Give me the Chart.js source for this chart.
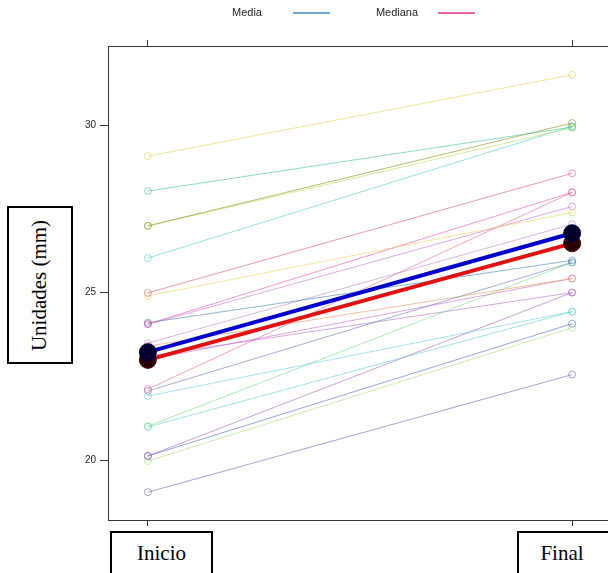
<!DOCTYPE html>
<html>
<head>
<meta charset="utf-8">
<script src="https://cdn.jsdelivr.net/npm/chart.js@4.4.1/dist/chart.umd.min.js"></script>
<style>
  html, body { margin: 0; padding: 0; background: #fff; overflow: hidden; width: 608px; height: 573px; }
  #wrap { position: absolute; left: 0; top: 0; width: 640px; height: 573px; }
  .box { position: absolute; border: 2px solid #000; box-sizing: border-box; background: #fff;
         font-family: "Liberation Serif", "Times New Roman", serif; font-size: 21px; color: #000;
         display: flex; align-items: center; justify-content: center; }
  #ytitle { left: 7px; top: 206px; width: 66px; height: 158px; }
  #ytitle span { display: block; transform: rotate(-90deg); white-space: nowrap; }
  #xInicio { left: 110px; top: 531px; width: 103px; height: 52px; padding-bottom: 8px; }
  #xFinal { left: 517px; top: 531px; width: 100px; height: 52px; padding-bottom: 8px; padding-right: 10px; }
</style>
</head>
<body>
<div id="wrap"><canvas id="chart" width="640" height="573"></canvas></div>
<div class="box" id="ytitle"><span>Unidades (mm)</span></div>
<div class="box" id="xInicio">Inicio</div>
<div class="box" id="xFinal">Final</div>
<script>
// categories on the x axis
const categories = ['Inicio', 'Final'];

// one value per subject, at start and at end
const inicio = [29.07, 28.03, 26.99, 26.99, 26.03, 24.99, 24.90, 24.06, 24.10, 24.05, 23.49, 23.40,
                22.12, 22.06, 21.91, 21.01, 20.99, 20.12, 20.12, 19.97, 19.04, 23.10, 23.00];
const final = [31.50, 29.94, 30.06, 29.92, 29.96, 28.56, 27.39, 27.99, 25.96, 27.57, 27.04, 25.42,
               27.99, 25.90, 24.43, 25.90, 24.43, 25.00, 24.07, 23.95, 22.55, 25.00, 25.42];

// summary lines
const meanValues = [23.22, 26.77];
const medianValues = [22.99, 26.47];

const yTicks = [20, 25, 30];

const subjectColors = [
  'rgba(230,205,60,0.55)', 'rgba(60,200,150,0.6)', 'rgba(150,150,30,0.65)', 'rgba(170,220,60,0.5)',
  'rgba(60,200,190,0.55)', 'rgba(220,90,110,0.6)', 'rgba(240,210,70,0.55)', 'rgba(230,80,170,0.6)',
  'rgba(70,130,180,0.6)', 'rgba(200,100,210,0.55)', 'rgba(190,110,200,0.5)', 'rgba(230,140,80,0.55)',
  'rgba(230,90,140,0.55)', 'rgba(90,110,190,0.55)', 'rgba(80,200,220,0.5)', 'rgba(90,220,110,0.5)',
  'rgba(70,200,200,0.5)', 'rgba(170,80,190,0.55)', 'rgba(70,110,200,0.6)', 'rgba(150,220,90,0.5)',
  'rgba(110,100,190,0.6)', 'rgba(160,90,200,0.5)', 'rgba(200,80,180,0.5)'
];

const toPoints = vals => vals.map((v, i) => ({ x: i + 1, y: v }));

const datasets = [];
datasets.push({
  label: 'Media', data: toPoints(meanValues), order: 0,
  borderColor: '#0000cc', borderWidth: 4,
  pointRadius: 8.5, pointBackgroundColor: '#00002a', pointBorderColor: '#000050', pointBorderWidth: 1
});
datasets.push({
  label: 'Mediana', data: toPoints(medianValues), order: 1,
  borderColor: '#e01010', borderWidth: 4,
  pointRadius: 8.5, pointBackgroundColor: '#2a0000', pointBorderColor: '#500000', pointBorderWidth: 1
});
inicio.forEach((v, i) => {
  datasets.push({
    label: 's' + (i + 1), data: toPoints([v, final[i]]), order: 2,
    borderColor: subjectColors[i], borderWidth: 1,
    pointRadius: 3.5, pointBackgroundColor: 'rgba(0,0,0,0)',
    pointBorderColor: subjectColors[i], pointBorderWidth: 1
  });
});

// legend drawn as text followed by a short line
const topLegend = {
  id: 'topLegend',
  afterDraw(chart) {
    const ctx = chart.ctx;
    ctx.save();
    ctx.font = '11px "Liberation Sans", Arial, sans-serif';
    ctx.fillStyle = '#222';
    ctx.textAlign = 'center';
    ctx.textBaseline = 'middle';
    ctx.fillText('Media', 247, 13);
    ctx.fillText('Mediana', 397, 13);
    ctx.lineWidth = 1.5;
    ctx.strokeStyle = '#3f8ccc';
    ctx.beginPath(); ctx.moveTo(293, 13); ctx.lineTo(330, 13); ctx.stroke();
    ctx.strokeStyle = '#e0308f';
    ctx.beginPath(); ctx.moveTo(438, 13); ctx.lineTo(475, 13); ctx.stroke();
    ctx.restore();
  }
};

const axisLine = { display: true, color: '#333', width: 1 };

new Chart(document.getElementById('chart'), {
  type: 'line',
  data: { datasets },
  plugins: [topLegend],
  options: {
    responsive: false,
    animation: false,
    layout: { padding: { left: 0, right: 28, top: 0, bottom: 0 } },
    plugins: { legend: { display: false }, tooltip: { enabled: false } },
    scales: {
      x: {
        type: 'linear', position: 'bottom', min: 0.906, max: 2.094,
        afterBuildTicks: s => { s.ticks = categories.map((c, i) => ({ value: i + 1 })); },
        afterFit: s => { s.height = 53; },
        ticks: { callback: () => '' },
        grid: { drawOnChartArea: false, drawTicks: true, tickLength: 6, color: '#333' },
        border: axisLine
      },
      xTop: {
        type: 'linear', position: 'top', min: 0.906, max: 2.094,
        afterBuildTicks: s => { s.ticks = categories.map((c, i) => ({ value: i + 1 })); },
        afterFit: s => { s.height = 46; },
        ticks: { callback: () => '' },
        grid: { drawOnChartArea: false, drawTicks: true, tickLength: 6, color: '#333' },
        border: axisLine
      },
      y: {
        type: 'linear', position: 'left', min: 18.21, max: 32.36,
        afterBuildTicks: s => { s.ticks = yTicks.map(v => ({ value: v })); },
        afterFit: s => { s.width = 108; },
        ticks: { padding: 4, color: '#222', font: { family: '"Liberation Sans", Arial, sans-serif', size: 10 } },
        grid: { drawOnChartArea: false, drawTicks: true, tickLength: 8, color: '#333' },
        border: axisLine
      }
    }
  }
});
</script>
</body>
</html>
